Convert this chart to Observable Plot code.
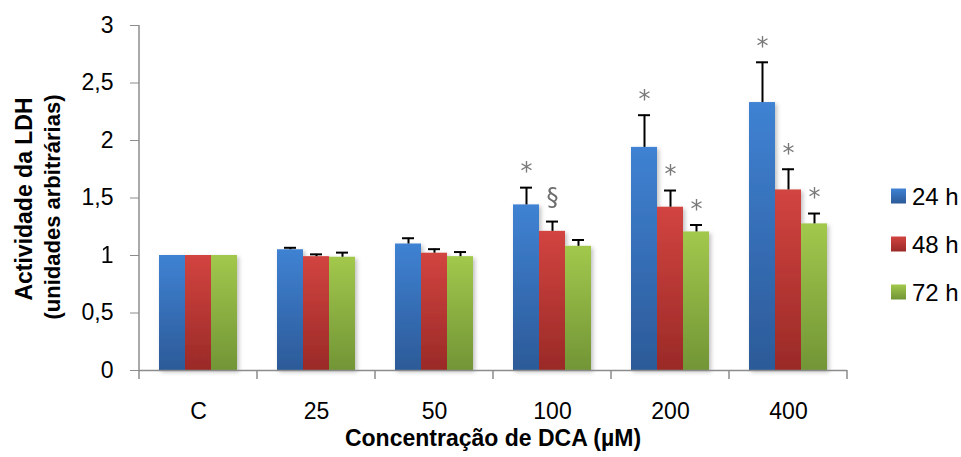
<!DOCTYPE html>
<html>
<head>
<meta charset="utf-8">
<script src="https://cdn.jsdelivr.net/npm/d3@7"></script>
<script src="https://cdn.jsdelivr.net/npm/@observablehq/plot@0.6"></script>
<style>
  html, body { margin: 0; padding: 0; background: #fff; }
  #chart { position: relative; width: 961px; height: 457px; }
  svg { font-family: "Liberation Sans", Arial, sans-serif; }
</style>
</head>
<body>
<div id="chart"></div>
<script>
const categories = ["C", "25", "50", "100", "200", "400"];
const series = ["24 h", "48 h", "72 h"];
const v24 = [1.00, 1.05, 1.10, 1.44, 1.94, 2.33];
const e24 = [0, 0.017, 0.05, 0.15, 0.28, 0.35];
const v48 = [1.00, 0.99, 1.02, 1.21, 1.42, 1.57];
const e48 = [0, 0.02, 0.035, 0.085, 0.145, 0.18];
const v72 = [1.00, 0.985, 0.99, 1.08, 1.205, 1.275];
const e72 = [0, 0.04, 0.04, 0.055, 0.06, 0.09];
const sig24 = ["", "", "", "*", "*", "*"];
const sig48 = ["", "", "", "§", "*", "*"];
const sig72 = ["", "", "", "", "*", "*"];
const yTicks = [0, 0.5, 1, 1.5, 2, 2.5, 3];
const yTitle = ["Actividade da LDH", "(unidades arbitrárias)"];
const xTitle = "Concentração de DCA (µM)";

const gradients = {
  "24 h": ["#3f82d3", "#2c5a98"],
  "48 h": ["#d24440", "#9a2a27"],
  "72 h": ["#a2c84c", "#729536"]
};
const gid = s => "g" + s.replace(/\W/g, "");

const vals = [v24, v48, v72], errs = [e24, e48, e72], sigs = [sig24, sig48, sig72];
const data = [];
categories.forEach((c, i) => series.forEach((s, j) => {
  data.push({cat: c, series: s, value: vals[j][i], err: errs[j][i], top: vals[j][i] + errs[j][i], sig: sigs[j][i]});
}));
const fmt = d => String(d).replace(".", ",");

const chart = Plot.plot({
  width: 961,
  height: 457,
  marginLeft: 136,
  marginRight: 112,
  marginTop: 25,
  marginBottom: 87,
  fx: {domain: categories, padding: 0},
  x: {domain: series, paddingInner: 0, paddingOuter: 0.74, axis: null},
  y: {domain: [0, 3]},
  color: {domain: series, range: series.map(s => `url(#${gid(s)})`)},
  marks: [
    Plot.barY(data, {fx: "cat", x: "series", y: "value", fill: "series"}),
    Plot.ruleX(data.filter(d => d.err > 0), {fx: "cat", x: "series", y1: "value", y2: "top", stroke: "#000", strokeWidth: 2}),
    Plot.tickY(data.filter(d => d.err > 0), {fx: "cat", x: "series", y: "top", stroke: "#000", strokeWidth: 2, insetLeft: 7, insetRight: 7}),
    Plot.text(data.filter(d => d.sig === "*"), {fx: "cat", x: "series", y: "top", text: "sig", dy: -16, fill: "#7a7a7a", fontSize: 24, fontFamily: "DejaVu Sans"}),
    Plot.text(data.filter(d => d.sig === "§"), {fx: "cat", x: "series", y: "top", text: "sig", dy: -24, fill: "#6e6e6e", fontSize: 24, fontFamily: "DejaVu Sans"}),
    Plot.ruleY([0], {stroke: "#8c8c8c", strokeWidth: 1.5}),
    Plot.axisY({ticks: yTicks, tickFormat: fmt, tickSize: 9, tickPadding: 17, stroke: "#8c8c8c", fontSize: 23, label: null}),
    Plot.axisFx({anchor: "bottom", tickSize: 0, tickPadding: 32, fontSize: 23, label: null})
  ]
});
document.getElementById("chart").appendChild(chart);

const svg = d3.select(chart);
svg.selectAll("g[aria-label='y-axis tick label'], g[aria-label='fx-axis tick label']").attr("fill", "#000");
const defs = svg.insert("defs", ":first-child");
series.forEach(s => {
  const g = defs.append("linearGradient").attr("id", gid(s)).attr("x1", 0).attr("y1", 0).attr("x2", 0).attr("y2", 1);
  g.append("stop").attr("offset", "0%").attr("stop-color", gradients[s][0]);
  g.append("stop").attr("offset", "100%").attr("stop-color", gradients[s][1]);
});
const f = defs.append("filter").attr("id", "shadow").attr("x", "-20%").attr("y", "-20%").attr("width", "150%").attr("height", "150%");
f.append("feDropShadow").attr("dx", 2).attr("dy", 2).attr("stdDeviation", 2).attr("flood-color", "#000").attr("flood-opacity", 0.25);
svg.selectAll("g[aria-label='bar']").attr("filter", "url(#shadow)");

const fx = chart.scale("fx"), y = chart.scale("y");
const y0 = y.apply(0), y3 = y.apply(3);
const x0 = fx.apply(categories[0]);
// y axis line
svg.append("line").attr("x1", x0).attr("x2", x0).attr("y1", y3).attr("y2", y0).attr("stroke", "#8c8c8c").attr("stroke-width", 1.5);
// category boundary ticks
const bounds = categories.map(c => fx.apply(c)).concat([fx.apply(categories[categories.length - 1]) + fx.bandwidth]);
svg.append("g").selectAll("line").data(bounds).join("line")
  .attr("x1", d => d).attr("x2", d => d).attr("y1", y0).attr("y2", y0 + 9)
  .attr("stroke", "#8c8c8c").attr("stroke-width", 1.5);

// axis titles
const yt = svg.append("text").attr("transform", "translate(0,199) rotate(-90)")
  .attr("text-anchor", "middle").attr("font-weight", "bold").attr("font-size", 23).attr("fill", "#000");
yt.append("tspan").attr("x", 0).attr("y", 32).text(yTitle[0]);
yt.append("tspan").attr("x", -8).attr("y", 60).attr("font-size", 22).text(yTitle[1]);
svg.append("text").attr("x", (x0 + bounds[bounds.length - 1]) / 2).attr("y", 446)
  .attr("text-anchor", "middle").attr("font-weight", "bold").attr("font-size", 23).attr("fill", "#000").text(xTitle);

// legend
const lg = svg.append("g").attr("transform", "translate(891,196)");
series.forEach((s, i) => {
  const row = lg.append("g").attr("transform", `translate(0,${i * 48})`);
  row.append("rect").attr("x", 0).attr("y", -7.5).attr("width", 15).attr("height", 15).attr("fill", `url(#${gid(s)})`);
  row.append("text").attr("x", 21).attr("y", 0).attr("dy", "0.36em").attr("text-anchor", "start")
    .attr("font-size", 24).attr("fill", "#000").text(s);
});
</script>
</body>
</html>
